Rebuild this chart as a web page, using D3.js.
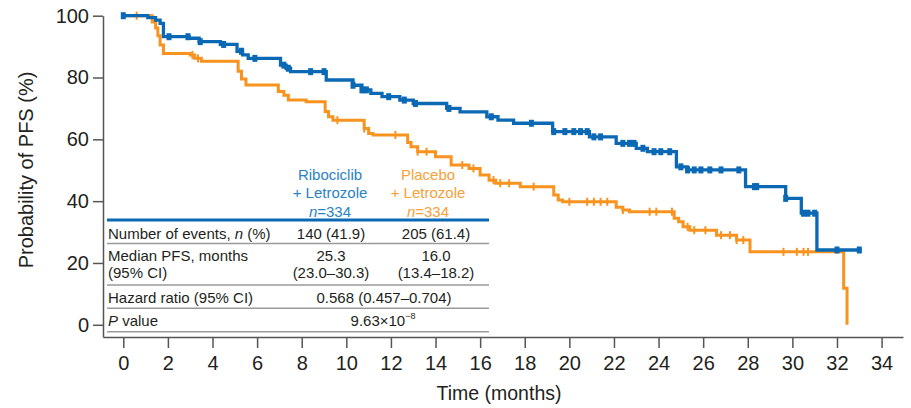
<!DOCTYPE html>
<html>
<head>
<meta charset="utf-8">
<script src="https://cdn.jsdelivr.net/npm/d3@7"></script>
<style>
  body { margin: 0; background: #fff; }
  svg text { font-family: "Liberation Sans", Arial, Helvetica, sans-serif; }
</style>
</head>
<body>
<svg id="chart" width="911" height="408"></svg>
<script>
// Kaplan-Meier steps: value (%) holds from each time onward
var ribo_times = [0, 1.1, 1.45, 1.65, 1.8, 2.95, 3.4, 4.35, 5.1, 5.35, 5.6, 7.05, 7.3, 7.5, 9.1, 10.3, 10.7, 11.1, 11.6, 12.4, 13.0, 14.5, 15.1, 16.3, 16.8, 17.5, 19.25, 20.9, 22.1, 23.0, 23.5, 24.8, 25.3, 27.9, 29.7, 30.4, 31.1, 33.1];
var ribo_surv  = [100, 99.4, 98.6, 97.5, 93.2, 92.7, 91.6, 90.7, 88.5, 87.3, 86.2, 84, 83, 81.9, 79.2, 77.5, 76, 74.9, 73.8, 72.7, 71.6, 70.0, 68.9, 67.3, 66.2, 65.2, 62.5, 60.8, 58.7, 57.1, 56.0, 51.1, 50.1, 44.7, 40.9, 36.1, 24.2, 24.2];
var ribo_censor = [0, 2.05, 2.9, 3.45, 4.5, 5.3, 5.9, 7.2, 7.4, 8.4, 9.0, 10.3, 10.7, 10.9, 11.9, 12.6, 13.1, 14.6, 16.5, 18.3, 19.3, 19.8, 20.2, 20.5, 20.8, 21.1, 21.4, 22.4, 22.7, 22.9, 23.3, 23.8, 24.1, 24.5, 25.0, 25.3, 25.6, 25.9, 26.3, 26.8, 27.6, 28.3, 28.4, 29.7, 30.5, 30.7, 31.0, 32.0, 33.0];

var plac_times = [0, 1.3, 1.45, 1.55, 1.65, 1.8, 3.0, 3.2, 3.5, 5.15, 5.3, 5.5, 6.95, 7.2, 7.4, 8.2, 9.05, 9.2, 9.4, 10.8, 11.0, 11.2, 12.75, 12.9, 13.2, 14.0, 14.7, 15.5, 16.0, 16.4, 16.7, 17.8, 19.3, 19.5, 19.7, 22.1, 22.4, 22.7, 24.7, 24.9, 25.1, 25.4, 26.6, 27.5, 28.1, 32.3, 32.45, 32.45];
var plac_surv  = [100, 98, 96, 93.5, 90.5, 87.8, 87.3, 86.2, 85.3, 82, 79.5, 77.6, 75.5, 74.3, 72.7, 72.2, 69, 67.3, 66.2, 63.5, 61.9, 61.4, 59, 57.6, 56, 54.4, 51.7, 50.6, 48.5, 46.8, 45.8, 44.7, 42, 40.4, 39.8, 38, 37.1, 36.6, 34.5, 33.3, 31.7, 30.6, 29.0, 27.4, 23.6, 11.8, 0, 0];
var plac_censor = [0.6, 3.1, 3.35, 9.6, 10.8, 12.2, 13.2, 13.6, 15.2, 15.7, 16.6, 16.9, 17.3, 18.4, 20.0, 20.8, 21.1, 21.4, 21.7, 22.4, 23.6, 23.9, 24.6, 25.3, 25.6, 26.1, 26.8, 27.2, 27.5, 27.8, 29.6, 30.2, 30.5, 30.7];

var x_ticks = d3.range(0, 35, 2);
var y_ticks = [0, 20, 40, 60, 80, 100];

var table_rows = [
    ["Number of events, ", "n", " (%)"],
    ["Median PFS, months"],
    ["(95% CI)"],
    ["Hazard ratio (95% CI)"],
    ["", "P", " value"]
];
var ribo_stats = ["140 (41.9)", "25.3", "(23.0\u201330.3)"];
var plac_stats = ["205 (61.4)", "16.0", "(13.4\u201318.2)"];
var hazard_ratio = "0.568 (0.457\u20130.704)";
var p_value = ["9.63\u00d710", "\u22128"];

var blue = "#0a68b4", orange = "#f7931e";
var blue_text = "#2a83c6", orange_text = "#f8a03a";

var svg = d3.select("#chart");

var xScale = d3.scaleLinear().domain([-0.91, 34.96]).range([103, 903]);
var yScale = d3.scaleLinear().domain([-3.95, 100]).range([337, 15.7]);

//Create X axis
var xAxis = d3.axisBottom(xScale).tickValues(x_ticks).tickSize(11).tickSizeOuter(0).tickPadding(8);
var gx = svg.append("g")
    .attr("class", "x axis")
    .attr("transform", "translate(0,337)")
    .call(xAxis);

//Create Y axis
var yAxis = d3.axisLeft(yScale).tickValues(y_ticks).tickSize(10).tickSizeOuter(0).tickPadding(4);
var gy = svg.append("g")
    .attr("class", "y axis")
    .attr("transform", "translate(103,0)")
    .call(yAxis);

svg.selectAll(".axis path, .axis line")
    .attr("stroke", "#555")
    .attr("stroke-width", 1.5);
svg.selectAll(".axis text")
    .attr("font-size", "20px")
    .attr("fill", "#231f20")
    .style("font-family", "'Liberation Sans', Arial, sans-serif");

svg.append("text")
    .attr("x", 499)
    .attr("y", 400)
    .attr("text-anchor", "middle")
    .attr("font-size", "19.5px")
    .attr("fill", "#231f20")
    .text("Time (months)");

svg.append("text")
    .attr("transform", "translate(33,170) rotate(-90)")
    .attr("text-anchor", "middle")
    .attr("font-size", "20px")
    .attr("fill", "#231f20")
    .text("Probability of PFS (%)");

//Survival curves
function steps(times, surv) {
    return times.map(function(t, i) { return {t: t, s: surv[i]}; });
}
function survAt(times, surv, t) {
    var i = d3.bisectRight(times, t) - 1;
    return surv[Math.max(i, 0)];
}

var line = d3.line()
    .curve(d3.curveStepAfter)
    .x(function(d) { return xScale(d.t); })
    .y(function(d) { return yScale(d.s); });

svg.append("path")
    .datum(steps(plac_times, plac_surv))
    .attr("d", line)
    .attr("fill", "none")
    .attr("stroke", orange)
    .attr("stroke-width", 3);

svg.selectAll("line.plac-censor")
    .data(plac_censor)
    .enter()
    .append("line")
    .attr("class", "plac-censor")
    .attr("x1", function(d) { return xScale(d); })
    .attr("x2", function(d) { return xScale(d); })
    .attr("y1", function(d) { return yScale(survAt(plac_times, plac_surv, d)) - 4; })
    .attr("y2", function(d) { return yScale(survAt(plac_times, plac_surv, d)) + 4; })
    .attr("stroke", orange)
    .attr("stroke-width", 2);

svg.append("path")
    .datum(steps(ribo_times, ribo_surv))
    .attr("d", line)
    .attr("fill", "none")
    .attr("stroke", blue)
    .attr("stroke-width", 3.3);

svg.selectAll("rect.ribo-censor")
    .data(ribo_censor)
    .enter()
    .append("rect")
    .attr("class", "ribo-censor")
    .attr("x", function(d) { return xScale(d) - 2.5; })
    .attr("y", function(d) { return yScale(survAt(ribo_times, ribo_surv, d)) - 3.5; })
    .attr("width", 5)
    .attr("height", 7)
    .attr("fill", blue);

//Table
var tbl = svg.append("g").attr("font-size", "15px").attr("fill", "#231f20");

var head = [
    {x: 330, color: blue_text, lines: ["Ribociclib", "+ Letrozole"]},
    {x: 428, color: orange_text, lines: ["Placebo", "+ Letrozole"]}
];
head.forEach(function(h) {
    h.lines.forEach(function(l, i) {
        tbl.append("text")
            .attr("x", h.x).attr("y", 179.5 + i * 18.5)
            .attr("text-anchor", "middle")
            .attr("fill", h.color)
            .text(l);
    });
    var n = tbl.append("text")
        .attr("x", h.x).attr("y", 217)
        .attr("text-anchor", "middle")
        .attr("fill", h.color);
    n.append("tspan").attr("font-style", "italic").text("n");
    n.append("tspan").text("=334");
});

tbl.append("line")
    .attr("x1", 107).attr("x2", 489)
    .attr("y1", 220).attr("y2", 220)
    .attr("stroke", blue).attr("stroke-width", 3);

var row_y = [238.5, 261, 277.5, 302.5, 326];
table_rows.forEach(function(r, i) {
    var t = tbl.append("text").attr("x", 108).attr("y", row_y[i]);
    r.forEach(function(part, j) {
        t.append("tspan")
            .attr("font-style", j == 1 ? "italic" : null)
            .text(part);
    });
});

[ribo_stats, plac_stats].forEach(function(col, c) {
    var cx = c == 0 ? 331 : 436;
    col.forEach(function(v, i) {
        tbl.append("text")
            .attr("x", cx).attr("y", row_y[i])
            .attr("text-anchor", "middle")
            .text(v);
    });
});

tbl.append("text")
    .attr("x", 384).attr("y", row_y[3])
    .attr("text-anchor", "middle")
    .text(hazard_ratio);

var pv = tbl.append("text")
    .attr("x", 383).attr("y", row_y[4])
    .attr("text-anchor", "middle");
pv.append("tspan").text(p_value[0]);
pv.append("tspan").attr("dy", -7).attr("font-size", "9px").text(p_value[1]);

var sep_y = [243.5, 285, 308.3, 331.7];
tbl.selectAll("line.sep")
    .data(sep_y)
    .enter()
    .append("line")
    .attr("class", "sep")
    .attr("x1", 107).attr("x2", 489)
    .attr("y1", function(d) { return d; })
    .attr("y2", function(d) { return d; })
    .attr("stroke", "#9a9a9a")
    .attr("stroke-width", 1.5);
</script>
</body>
</html>
